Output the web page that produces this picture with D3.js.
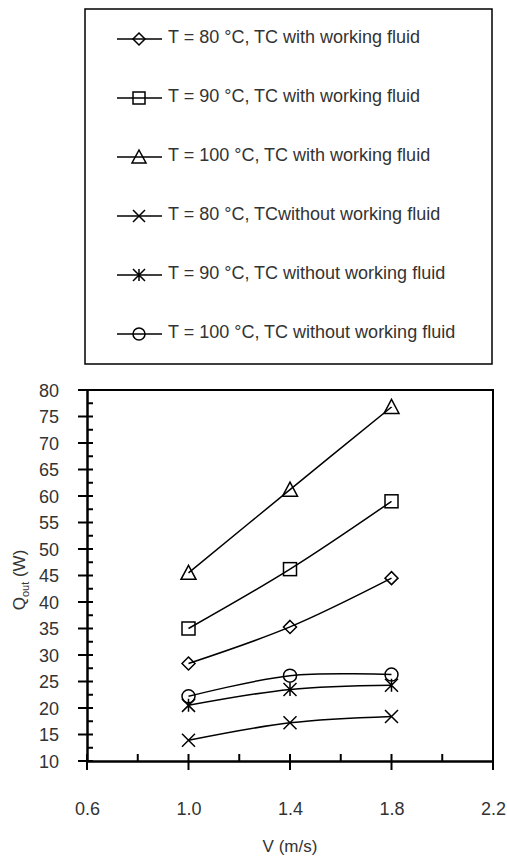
<!DOCTYPE html>
<html><head><meta charset="utf-8">
<script src="https://cdn.jsdelivr.net/npm/d3@7"></script>
<style>body{margin:0;background:#fff}svg{display:block}text{font-family:"Liberation Sans",Arial,sans-serif;fill:#333}</style>
</head><body><svg id="c" width="507" height="857"></svg>
<script>
const velocities = [1.0, 1.4, 1.8];
const seriesNames = [
  "T = 80 \u00B0C, TC with working fluid",
  "T = 90 \u00B0C, TC with working fluid",
  "T = 100 \u00B0C, TC with working fluid",
  "T = 80 \u00B0C, TCwithout working fluid",
  "T = 90 \u00B0C, TC without working fluid",
  "T = 100 \u00B0C, TC without working fluid"
];
const markers = ["diamond","square","triangle","x","star","circle"];
const q80with = [28.4, 35.3, 44.5];
const q90with = [35.0, 46.2, 59.0];
const q100with = [45.5, 61.2, 76.8];
const q80without = [13.9, 17.2, 18.4];
const q90without = [20.5, 23.5, 24.3];
const q100without = [22.2, 26.1, 26.3];
const seriesValues = [q80with, q90with, q100with, q80without, q90without, q100without];
const xTicks = [0.6, 1.0, 1.4, 1.8, 2.2];
const yTicks = [10,15,20,25,30,35,40,45,50,55,60,65,70,75,80];

const svg = d3.select("#c");
const L = 87, R = 493, T = 390, B = 761;
const x = d3.scaleLinear().domain([0.6, 2.2]).range([L, R]);
const y = d3.scaleLinear().domain([10, 80]).range([B, T]);

function drawMarker(g, type, s) {
  const h = s/2;
  const st = {fill:"none", stroke:"#000", "stroke-width":1.5};
  let el;
  if (type === "diamond") el = g.append("path").attr("d", `M0,${-h}L${h},0L0,${h}L${-h},0Z`);
  else if (type === "square") el = g.append("rect").attr("x",-h).attr("y",-h).attr("width",s).attr("height",s);
  else if (type === "triangle") el = g.append("path").attr("d", `M0,${-h-1}L${h+1},${h}L${-h-1},${h}Z`);
  else if (type === "circle") el = g.append("circle").attr("r", h);
  else if (type === "x") el = g.append("path").attr("d", `M${-h},${-h}L${h},${h}M${-h},${h}L${h},${-h}`);
  else if (type === "star") el = g.append("path").attr("d", `M${-h},${-h}L${h},${h}M${-h},${h}L${h},${-h}M0,${-h}L0,${h}`);
  for (const k in st) el.attr(k, st[k]);
}

// frame (top & right)
svg.append("path").attr("d", `M78,${T}H${R}V${B}`).attr("fill","none").attr("stroke","#000").attr("stroke-width",2);

// y axis
const yAxis = d3.axisLeft(y).tickValues(yTicks).tickSize(0).tickFormat(d3.format("d"));
const gy = svg.append("g").attr("transform", `translate(${L},0)`).call(yAxis);
gy.select(".domain").attr("stroke","#000").attr("stroke-width",2.5);
gy.selectAll(".tick text").attr("x", -28).attr("dy", "0.35em").style("font-size","18px").attr("fill","#333");
yTicks.forEach(v => svg.append("line").attr("x1",78).attr("x2",93).attr("y1",y(v)).attr("y2",y(v)).attr("stroke","#000").attr("stroke-width",2));
d3.range(12.5, 80, 5).forEach(v => svg.append("line").attr("x1",L).attr("x2",93).attr("y1",y(v)).attr("y2",y(v)).attr("stroke","#000").attr("stroke-width",2));

// x axis
const xAxis = d3.axisBottom(x).tickValues(xTicks).tickSize(0).tickFormat(d3.format(".1f"));
const gx = svg.append("g").attr("transform", `translate(0,${B})`).call(xAxis);
gx.select(".domain").attr("stroke","#000").attr("stroke-width",2.5);
gx.selectAll(".tick text").attr("y", 48).attr("dy", "0.35em").style("font-size","18px").attr("fill","#333");
xTicks.forEach(v => svg.append("line").attr("x1",x(v)).attr("x2",x(v)).attr("y1",B-7).attr("y2",B+9).attr("stroke","#000").attr("stroke-width",2));
[0.8,1.2,1.6,2.0].forEach(v => svg.append("line").attr("x1",x(v)).attr("x2",x(v)).attr("y1",B-7).attr("y2",B).attr("stroke","#000").attr("stroke-width",2));

// axis titles
svg.append("text").attr("x", 290).attr("y", 852).attr("text-anchor","middle").style("font-size","17px").text("V (m/s)");
const yt = svg.append("text").attr("transform","translate(25,580) rotate(-90)").attr("text-anchor","middle").style("font-size","17px");
yt.append("tspan").text("Q");
yt.append("tspan").attr("dy", 4).style("font-size","11px").text("out");
yt.append("tspan").attr("dy", -4).text(" (W)");

// series
const line = d3.line().x((d,i)=>x(velocities[i])).y(d=>y(d)).curve(d3.curveCatmullRom.alpha(0.5));
seriesValues.forEach((vals, si) => {
  svg.append("path").attr("d", line(vals)).attr("fill","none").attr("stroke","#000").attr("stroke-width",1.5);
  vals.forEach((v,i) => {
    const g = svg.append("g").attr("transform", `translate(${x(velocities[i])},${y(v)})`);
    drawMarker(g, markers[si], 13);
  });
});

// legend
svg.append("rect").attr("x",85).attr("y",9).attr("width",407).attr("height",355).attr("fill","#fff").attr("stroke","#000").attr("stroke-width",1.5);
seriesNames.forEach((name, i) => {
  const ly = 39 + i*59;
  svg.append("line").attr("x1",117).attr("x2",162).attr("y1",ly).attr("y2",ly).attr("stroke","#000").attr("stroke-width",1.5);
  const g = svg.append("g").attr("transform", `translate(139,${ly})`);
  drawMarker(g, markers[i], 12);
  svg.append("text").attr("x",168).attr("y",ly+4).style("font-size","18px").text(name);
});
</script></body></html>
